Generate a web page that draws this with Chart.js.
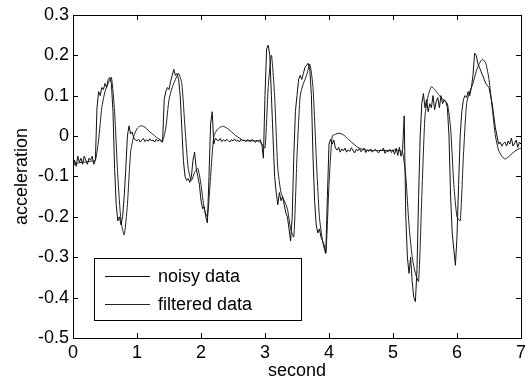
<!DOCTYPE html>
<html>
<head>
<meta charset="utf-8">
<script src="https://cdn.jsdelivr.net/npm/chart.js@4.4.1/dist/chart.umd.min.js"></script>
<style>
    html, body { margin: 0; padding: 0; background: #fff; }
</style>
</head>
<body>
<canvas id="myChart" width="530" height="383"></canvas>
<script>
// sampling step (seconds) of each series
const noisyStep = 0.025;
const filteredStep = 0.05;

const seriesLabels = ['noisy data', 'filtered data'];

const noisyData = [
    -0.085, -0.06, -0.075, -0.05, -0.065, -0.055, -0.07, -0.05, -0.06, -0.07,
    -0.055, -0.06, -0.05, -0.07, -0.06, 0.07, 0.11, 0.10, 0.12, 0.115,
    0.13, 0.12, 0.14, 0.145, 0.13, 0.06, -0.08, -0.17, -0.21, -0.2,
    -0.22, -0.2, -0.15, -0.08, 0.0, 0.025, 0.005, 0.01, -0.005, -0.01,
    -0.012, -0.008, -0.015, -0.01, -0.006, -0.014, -0.009, -0.013, -0.007, -0.012,
    -0.01, -0.015, -0.008, -0.013, -0.009, -0.014, -0.015, 0.09, 0.11, 0.12,
    0.115, 0.135, 0.15, 0.165, 0.15, 0.155, 0.14, 0.10, 0.02, -0.06,
    -0.10, -0.11, -0.105, -0.115, -0.10, -0.06, -0.04, -0.08, -0.10, -0.12,
    -0.16, -0.18, -0.175, -0.20, -0.215, -0.10, 0.03, 0.06, -0.02, -0.005,
    -0.01, -0.012, -0.006, -0.014, -0.009, -0.013, -0.008, -0.011, -0.015, -0.009,
    -0.012, -0.007, -0.013, -0.01, -0.015, -0.008, -0.012, -0.01, -0.014, -0.009,
    -0.011, -0.013, -0.008, -0.012, -0.016, -0.01, -0.013, -0.009, -0.02, -0.055,
    0.1, 0.215, 0.225, 0.2, 0.1, 0.0, -0.1, -0.14, -0.17, -0.14,
    -0.16, -0.15, -0.17, -0.19, -0.2, -0.23, -0.26, -0.2, -0.05, 0.06,
    0.10, 0.14, 0.15, 0.14, 0.155, 0.17, 0.175, 0.18, 0.165, 0.10,
    -0.05, -0.16, -0.22, -0.24, -0.23, -0.25, -0.26, -0.27, -0.29, -0.15,
    -0.02, -0.008, -0.02, -0.01, -0.03, -0.035, -0.028, -0.04, -0.032, -0.037,
    -0.03, -0.04, -0.034, -0.038, -0.029, -0.036, -0.042, -0.033, -0.037, -0.031,
    -0.039, -0.034, -0.03, -0.041, -0.035, -0.038, -0.032, -0.04, -0.036, -0.033,
    -0.038, -0.042, -0.034, -0.037, -0.03, -0.043, -0.036, -0.039, -0.033, -0.041,
    -0.035, -0.045, -0.03, -0.048, -0.028, -0.05, -0.035, 0.05, -0.2, -0.3,
    -0.34, -0.3, -0.36, -0.4, -0.41, -0.33, -0.15, 0.0, 0.08, 0.105,
    0.07, 0.09, 0.06, 0.08, 0.07, 0.10, 0.065, 0.085, 0.095, 0.07,
    0.10, 0.08, 0.09, 0.085, 0.07, 0.0, -0.15, -0.24, -0.28, -0.32,
    -0.25, -0.12, 0.0, 0.06, 0.09, 0.10, 0.095, 0.11, 0.10, 0.12,
    0.15, 0.205, 0.2, 0.18, 0.17, 0.16, 0.15, 0.14, 0.13, 0.125,
    0.12, 0.1, 0.08, 0.05, 0.02, 0.0, -0.02, -0.015, -0.025, -0.018,
    -0.015, -0.025, -0.012, -0.02, -0.005, -0.025, -0.018, -0.01, -0.028, -0.015,
    -0.02
];

const filteredData = [
    -0.07, -0.068, -0.066, -0.065, -0.064, -0.063, -0.062, -0.06, -0.01, 0.07,
    0.11, 0.13, 0.145, 0.06, -0.1, -0.21, -0.245, -0.17, -0.04, 0.0,
    0.018, 0.025, 0.024, 0.018, 0.01, 0.004, -0.003, -0.008, -0.012, 0.02,
    0.09, 0.12, 0.14, 0.155, 0.13, 0.02, -0.08, -0.11, -0.09, -0.08,
    -0.12, -0.18, -0.2, -0.1, 0.0, 0.015, 0.022, 0.024, 0.02, 0.014,
    0.007, 0.0, -0.005, -0.01, -0.012, -0.012, -0.012, -0.012, -0.013, -0.02,
    -0.03, 0.12, 0.2, 0.1, -0.08, -0.14, -0.16, -0.18, -0.23, -0.25,
    -0.05, 0.1, 0.13, 0.15, 0.178, 0.12, -0.05, -0.2, -0.26, -0.29,
    -0.12, 0.0, 0.004, 0.007, 0.005, 0.0, -0.008, -0.015, -0.022, -0.028,
    -0.032, -0.034, -0.035, -0.036, -0.036, -0.036, -0.036, -0.036, -0.036, -0.036,
    -0.035, -0.035, -0.036, -0.04, -0.1, -0.22, -0.3, -0.34, -0.36, -0.15,
    0.05, 0.1, 0.122, 0.115, 0.105, 0.095, 0.088, 0.08, 0.02, -0.12,
    -0.2, -0.21, -0.05, 0.08, 0.11, 0.13, 0.16, 0.18, 0.19, 0.18,
    0.14, 0.07, 0.0, -0.035, -0.05, -0.057, -0.052, -0.045, -0.038, -0.033,
    -0.03
];

const xTicks = [0, 1, 2, 3, 4, 5, 6, 7];
const yTicks = [-0.5, -0.4, -0.3, -0.2, -0.1, 0, 0.1, 0.2, 0.3];

const fontFamily = '"Liberation Sans", Arial, Helvetica, sans-serif';

function toPoints(values, step) {
    return values.map((v, i) => ({ x: i * step, y: v }));
}

// inward tick marks on all four sides, the box, and the boxed legend
const matlabAxes = {
    id: 'matlabAxes',
    afterDatasetsDraw(chart) {
        const { ctx, chartArea: a, scales: { x, y } } = chart;
        ctx.save();
        ctx.strokeStyle = '#000';
        ctx.lineWidth = 1;
        ctx.beginPath();
        xTicks.forEach(v => {
            const px = Math.round(x.getPixelForValue(v)) + 0.5;
            ctx.moveTo(px, a.bottom); ctx.lineTo(px, a.bottom - 5);
            ctx.moveTo(px, a.top); ctx.lineTo(px, a.top + 5);
        });
        yTicks.forEach(v => {
            const py = Math.round(y.getPixelForValue(v)) + 0.5;
            ctx.moveTo(a.left, py); ctx.lineTo(a.left + 5, py);
            ctx.moveTo(a.right, py); ctx.lineTo(a.right - 5, py);
        });
        ctx.stroke();
        ctx.strokeRect(Math.round(a.left) + 0.5, Math.round(a.top) + 0.5,
            Math.round(a.right - a.left), Math.round(a.bottom - a.top));

        // legend box
        const lx = 94.5, ly = 258.5, lw = 207, lh = 62;
        ctx.fillStyle = '#fff';
        ctx.fillRect(lx, ly, lw, lh);
        ctx.strokeRect(lx, ly, lw, lh);
        ctx.font = '18px ' + fontFamily;
        ctx.textBaseline = 'middle';
        ctx.textAlign = 'left';
        const rows = [276, 304];
        chart.data.datasets.forEach((ds, i) => {
            const ry = rows[i] + 0.5;
            ctx.strokeStyle = ds.borderColor;
            ctx.beginPath();
            ctx.moveTo(105, ry); ctx.lineTo(150, ry);
            ctx.stroke();
            ctx.fillStyle = '#000';
            ctx.fillText(ds.label, 158, rows[i] + 1);
        });
        ctx.restore();
    }
};

const ctx = document.getElementById('myChart').getContext('2d');

const config = {
    type: 'line',
    data: {
        datasets: [{
            label: seriesLabels[0],
            data: toPoints(noisyData, noisyStep),
            borderColor: '#111',
            borderWidth: 1,
            pointRadius: 0,
            tension: 0,
            fill: false
        }, {
            label: seriesLabels[1],
            data: toPoints(filteredData, filteredStep),
            borderColor: '#222',
            borderWidth: 1,
            pointRadius: 0,
            tension: 0.2,
            fill: false
        }]
    },
    options: {
        responsive: false,
        animation: false,
        events: [],
        layout: { padding: { top: 13, right: 4, left: 0, bottom: 0 } },
        plugins: {
            legend: { display: false },
            tooltip: { enabled: false }
        },
        scales: {
            x: {
                type: 'linear',
                min: 0,
                max: 7,
                afterFit(scale) { scale.height = 45; },
                afterBuildTicks(scale) { scale.ticks = xTicks.map(v => ({ value: v })); },
                grid: { display: false, drawTicks: false },
                border: { display: false },
                ticks: {
                    color: '#000',
                    padding: 4,
                    maxRotation: 0,
                    autoSkip: false,
                    font: { family: fontFamily, size: 18 }
                },
                title: {
                    display: true,
                    text: 'second',
                    color: '#000',
                    padding: { top: 0, bottom: 1 },
                    font: { family: fontFamily, size: 18 }
                }
            },
            y: {
                min: -0.5,
                max: 0.3,
                afterFit(scale) { scale.width = 73; },
                afterBuildTicks(scale) { scale.ticks = yTicks.map(v => ({ value: v })); },
                grid: { display: false, drawTicks: false },
                border: { display: false },
                ticks: {
                    color: '#000',
                    padding: 4,
                    autoSkip: false,
                    font: { family: fontFamily, size: 18 },
                    callback: v => String(Math.round(v * 10) / 10)
                },
                title: {
                    display: true,
                    text: 'acceleration',
                    color: '#000',
                    padding: { top: 11, bottom: 0 },
                    font: { family: fontFamily, size: 18 }
                }
            }
        }
    },
    plugins: [matlabAxes]
};

const myChart = new Chart(ctx, config);
</script>
</body>
</html>
